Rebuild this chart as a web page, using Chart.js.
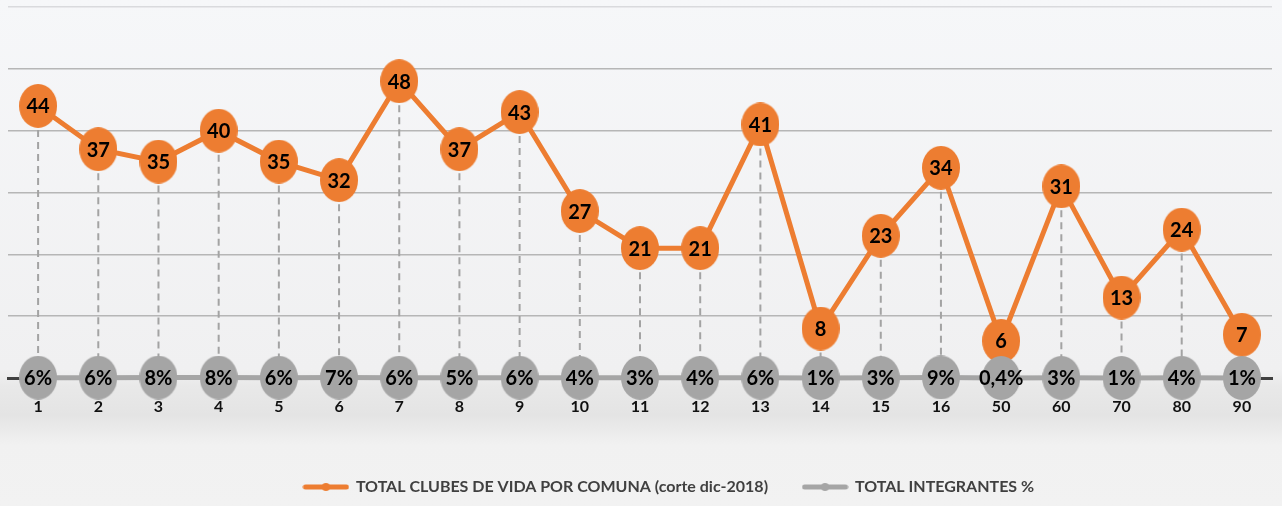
<!DOCTYPE html>
<html lang="es">
  <head>
    <meta charset="UTF-8" />
    <title>Clubes de vida por comuna</title>
    <script src="https://cdn.jsdelivr.net/npm/chart.js"></script>
    <style>
      html, body { margin: 0; padding: 0; background: #f2f2f2; overflow: hidden; }
    </style>
  </head>
  <body>
    <canvas id="clubesChart" width="1282" height="506"></canvas>

    <script>
      const comunas = ["1", "2", "3", "4", "5", "6", "7", "8", "9", "10", "11", "12", "13", "14", "15", "16", "50", "60", "70", "80", "90"];
      const totalClubes = [44, 37, 35, 40, 35, 32, 48, 37, 43, 27, 21, 21, 41, 8, 23, 34, 6, 31, 13, 24, 7];
      const totalIntegrantes = [0.06, 0.06, 0.08, 0.08, 0.06, 0.07, 0.06, 0.05, 0.06, 0.04, 0.03, 0.04, 0.06, 0.01, 0.03, 0.09, 0.004, 0.03, 0.01, 0.04, 0.01];
      const yTicks = [0, 10, 20, 30, 40, 50, 60];

      const ORANGE = "#ed7d31";
      const GRAY = "#a5a5a5";

      function ellipseImage(color) {
        const c = document.createElement("canvas");
        c.width = 38;
        c.height = 44;
        const g = c.getContext("2d");
        g.fillStyle = color;
        g.beginPath();
        g.ellipse(19, 22, 19, 22, 0, 0, Math.PI * 2);
        g.fill();
        return c;
      }

      function legendImage(color) {
        const c = document.createElement("canvas");
        c.width = 47;
        c.height = 10;
        const g = c.getContext("2d");
        g.strokeStyle = color;
        g.lineWidth = 5;
        g.lineCap = "round";
        g.beginPath();
        g.moveTo(3, 5);
        g.lineTo(44, 5);
        g.stroke();
        g.fillStyle = color;
        g.beginPath();
        g.arc(23.5, 5, 4, 0, Math.PI * 2);
        g.fill();
        return c;
      }

      function pctLabel(v) {
        return String(Math.round(v * 1000) / 10).replace(".", ",") + "%";
      }

      // background with the grey band under the axis
      const backgroundPlugin = {
        id: "background",
        beforeDraw(chart) {
          const { ctx, width, height } = chart;
          const grad = ctx.createLinearGradient(0, 0, 0, height);
          grad.addColorStop(0, "#f6f7f9");
          grad.addColorStop(370 / 506, "#f0f0f1");
          grad.addColorStop(385 / 506, "#e9e9e9");
          grad.addColorStop(415 / 506, "#e4e4e4");
          grad.addColorStop(445 / 506, "#f1f1f1");
          grad.addColorStop(1, "#f2f2f2");
          ctx.save();
          ctx.fillStyle = grad;
          ctx.fillRect(0, 0, width, height);
          ctx.restore();
        },
      };

      // the legend sits a little right of centre in the original
      const legendShiftPlugin = {
        id: "legendShift",
        afterLayout(chart) {
          chart.legend.left += 29;
          chart.legend.right += 29;
        },
      };

      // dashed drop lines from each orange point down to the grey one
      const dropLinesPlugin = {
        id: "dropLines",
        beforeDatasetsDraw(chart) {
          const top = chart.getDatasetMeta(0).data;
          const bottom = chart.getDatasetMeta(1).data;
          const ctx = chart.ctx;
          ctx.save();
          ctx.strokeStyle = "#a3a3a3";
          ctx.lineWidth = 2;
          ctx.setLineDash([7, 5]);
          top.forEach((pt, i) => {
            ctx.beginPath();
            ctx.moveTo(pt.x, pt.y);
            ctx.lineTo(bottom[i].x, bottom[i].y);
            ctx.stroke();
          });
          ctx.restore();
        },
      };

      // value labels inside the markers
      const labelsPlugin = {
        id: "pointLabels",
        afterDatasetsDraw(chart) {
          const ctx = chart.ctx;
          ctx.save();
          ctx.font = "bold 20px Lato";
          ctx.fillStyle = "#000";
          ctx.textAlign = "center";
          ctx.textBaseline = "middle";
          chart.getDatasetMeta(0).data.forEach((pt, i) => {
            ctx.fillText(String(totalClubes[i]), pt.x, pt.y + 1);
          });
          chart.getDatasetMeta(1).data.forEach((pt, i) => {
            ctx.fillText(pctLabel(totalIntegrantes[i]), pt.x, pt.y + 1);
          });
          ctx.restore();
        },
      };

      const orangeDot = ellipseImage(ORANGE);
      const grayDot = ellipseImage(GRAY);

      const ctx = document.getElementById("clubesChart").getContext("2d");
      new Chart(ctx, {
        type: "line",
        data: {
          labels: comunas,
          datasets: [
            {
              label: "TOTAL CLUBES DE VIDA POR COMUNA (corte dic-2018)",
              data: totalClubes,
              borderColor: ORANGE,
              backgroundColor: ORANGE,
              borderWidth: 5,
              pointStyle: orangeDot,
              pointRadius: 20,
              order: 2,
              clip: false,
            },
            {
              label: "TOTAL INTEGRANTES %",
              data: totalIntegrantes,
              borderColor: GRAY,
              backgroundColor: GRAY,
              borderWidth: 5,
              pointStyle: grayDot,
              pointRadius: 20,
              order: 1,
              clip: false,
            },
          ],
        },
        options: {
          responsive: false,
          animation: false,
          layout: { autoPadding: false, padding: { left: 8, right: 10, top: 7, bottom: 1 } },
          scales: {
            x: {
              offset: true,
              grid: { display: false, drawTicks: false },
              border: { display: true, color: "#404040", width: 3 },
              ticks: {
                padding: 19,
                color: "#111",
                maxRotation: 0,
                autoSkip: false,
                font: { family: "Lato", size: 16, weight: "bold" },
              },
              afterFit: (scale) => {
                scale.height = 66;
              },
            },
            y: {
              min: yTicks[0],
              max: yTicks[yTicks.length - 1],
              afterBuildTicks: (scale) => {
                scale.ticks = yTicks.map((v) => ({ value: v }));
              },
              afterFit: (scale) => {
                scale.width = 0;
              },
              ticks: { display: false },
              border: { display: false },
              grid: {
                drawTicks: false,
                lineWidth: 1.5,
                color: (c) => (c.tick && c.tick.value === 60 ? "#d9dadd" : "#b6b6b6"),
              },
            },
          },
          plugins: {
            tooltip: { enabled: false },
            legend: {
              position: "bottom",
              labels: {
                usePointStyle: true,
                pointStyleWidth: 44,
                padding: 35,
                color: "#404040",
                font: { family: "Lato", size: 16, weight: "bold" },
                generateLabels: (chart) =>
                  chart.data.datasets.map((ds, i) => ({
                    text: ds.label,
                    pointStyle: legendImage(ds.borderColor),
                    fontColor: "#404040",
                    datasetIndex: i,
                    hidden: false,
                    lineWidth: 0,
                  })),
              },
            },
          },
        },
        plugins: [backgroundPlugin, legendShiftPlugin, dropLinesPlugin, labelsPlugin],
      });
    </script>
  </body>
</html>
